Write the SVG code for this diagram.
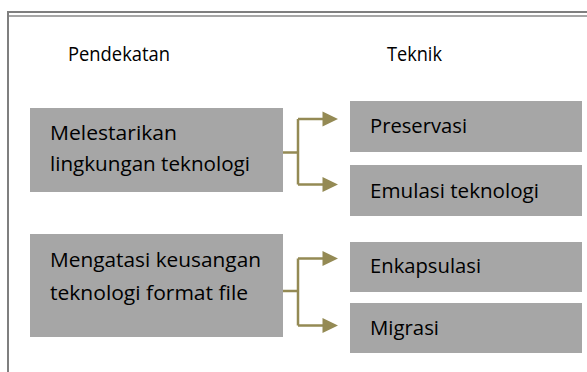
<svg xmlns="http://www.w3.org/2000/svg" width="587" height="372" viewBox="0 0 587 372">
<style>
.box{fill:#a6a6a6}
.t{font-family:"Open Sans","Liberation Sans",sans-serif;font-size:20px;fill:#000}
.c{fill:none;stroke:#948a54;stroke-width:2.5}
</style>
<rect width="587" height="372" fill="#fff"/>
<g id="frame">
<path d="M8,372 V12 H587" fill="none" stroke="#7f7f7f" stroke-width="2"/>
<path d="M9,16 H587" fill="none" stroke="#a6a6a6" stroke-width="2"/>
</g>
<g id="headers">
<text class="t" x="68" y="61" textLength="102" lengthAdjust="spacingAndGlyphs">Pendekatan</text>
<text class="t" x="387" y="61" textLength="55" lengthAdjust="spacingAndGlyphs">Teknik</text>
</g>
<g id="connectors">
<path class="c" d="M283,152.5 H298 M298,119 V184.5 M298,119 H323 M298,184.5 H323"/>
<path d="M322.5,111.5 L338,119 L322.5,126.5 Z M322.5,177 L338,184.5 L322.5,192 Z" fill="#948a54"/>
<path class="c" d="M283,291 H298 M298,258.5 V325.5 M298,258.5 H323 M298,325.5 H323"/>
<path d="M322.5,251 L338,258.5 L322.5,266 Z M322.5,318 L338,325.5 L322.5,333 Z" fill="#948a54"/>
</g>
<g id="n-melestarikan">
<rect class="box" x="30" y="108" width="253" height="84"/>
<text class="t" x="50" y="140" textLength="127" lengthAdjust="spacingAndGlyphs">Melestarikan</text>
<text class="t" x="50" y="171" textLength="200" lengthAdjust="spacingAndGlyphs">lingkungan teknologi</text>
</g>
<g id="n-mengatasi">
<rect class="box" x="30" y="234" width="253" height="103"/>
<text class="t" x="50" y="267" textLength="211" lengthAdjust="spacingAndGlyphs">Mengatasi keusangan</text>
<text class="t" x="50" y="300" textLength="198" lengthAdjust="spacingAndGlyphs">teknologi format file</text>
</g>
<g id="n-preservasi">
<rect class="box" x="350" y="101" width="232" height="51"/>
<text class="t" x="370" y="133" textLength="97" lengthAdjust="spacingAndGlyphs">Preservasi</text>
</g>
<g id="n-emulasi">
<rect class="box" x="350" y="165" width="232" height="51"/>
<text class="t" x="370" y="198" textLength="169" lengthAdjust="spacingAndGlyphs">Emulasi teknologi</text>
</g>
<g id="n-enkapsulasi">
<rect class="box" x="350" y="242" width="232" height="50"/>
<text class="t" x="370" y="273" textLength="111" lengthAdjust="spacingAndGlyphs">Enkapsulasi</text>
</g>
<g id="n-migrasi">
<rect class="box" x="350" y="303" width="232" height="50"/>
<text class="t" x="370" y="335" textLength="69" lengthAdjust="spacingAndGlyphs">Migrasi</text>
</g>
</svg>
